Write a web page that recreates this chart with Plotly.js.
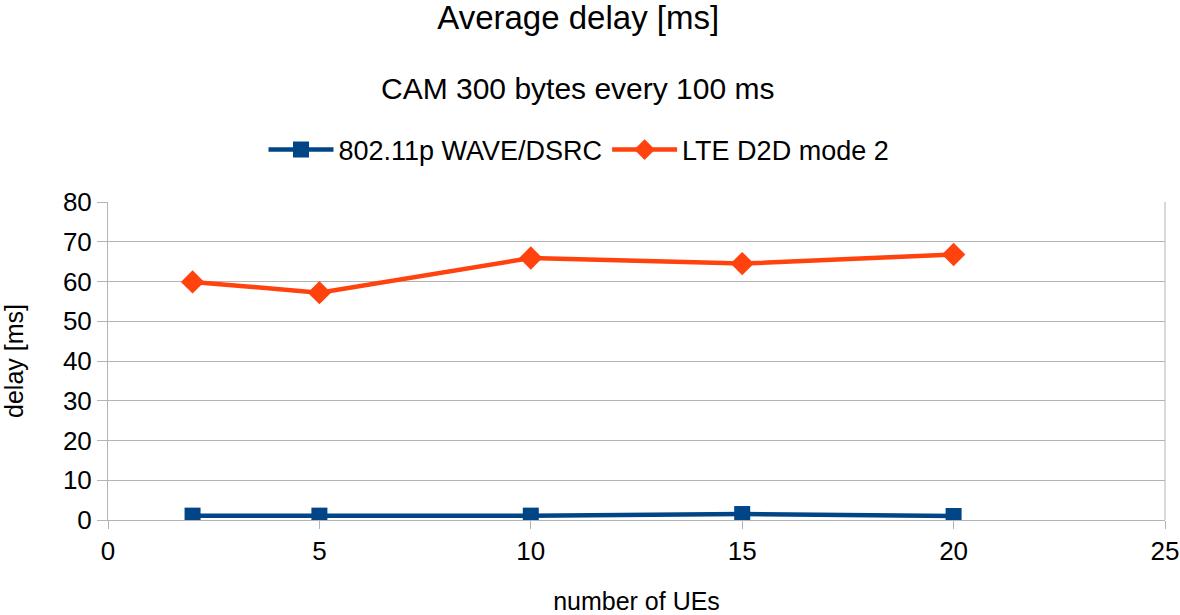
<!DOCTYPE html>
<html>
<head>
<meta charset="utf-8">
<script src="https://cdn.plot.ly/plotly-3.0.1.min.js"></script>
<style>html,body{margin:0;padding:0;background:#fff;}#chart{width:1180px;height:615px;}</style>
</head>
<body>
<div id="chart"></div>
<script>
const ueCounts = [2, 5, 10, 15, 20];
const waveDelay = [1.1, 1.1, 1.1, 1.5, 1.0];
const lteDelay = [59.9, 57.2, 65.9, 64.5, 66.8];
const seriesNames = ['802.11p WAVE/DSRC', 'LTE D2D mode 2'];
const xTicks = [0, 5, 10, 15, 20, 25];
const yTicks = [0, 10, 20, 30, 40, 50, 60, 70, 80];

const font = 'Liberation Sans, Arial, sans-serif';
const traces = [
  {x: ueCounts, y: waveDelay, name: seriesNames[0], type: 'scatter', mode: 'lines+markers',
   line: {color: '#004586', width: 4.5}, marker: {symbol: 'square', size: 16, color: '#004586'}},
  {x: ueCounts, y: lteDelay, name: seriesNames[1], type: 'scatter', mode: 'lines+markers',
   line: {color: '#ff420e', width: 4.5}, marker: {symbol: 'diamond', size: 18, color: '#ff420e'}}
];
const layout = {
  width: 1180, height: 615,
  margin: {l: 108, r: 15, t: 202, b: 95},
  paper_bgcolor: '#fff', plot_bgcolor: '#fff',
  font: {family: font, color: '#000'},
  title: {text: 'Average delay [ms]', font: {size: 33, family: font, color: '#000'},
          x: 0.49, xanchor: 'center', y: 0.972, yanchor: 'middle', xref: 'container', yref: 'container'},
  annotations: [{text: 'CAM 300 bytes every 100 ms', xref: 'paper', yref: 'paper',
                 x: (578-108)/1057, y: (520-88)/318, xanchor: 'center', yanchor: 'middle',
                 showarrow: false, font: {size: 30, family: font, color: '#000'}}],
  showlegend: true,
  legend: {orientation: 'h', x: (579-108)/1057, y: (520-150)/318, xanchor: 'center', yanchor: 'middle',
           font: {size: 27, family: font, color: '#000'}, itemwidth: 65, traceorder: 'normal'},
  xaxis: {range: [0, 25], tickvals: xTicks, ticktext: xTicks.map(String),
          showgrid: false, zeroline: false, showline: true, linecolor: '#b3b3b3', linewidth: 1,
          ticks: 'outside', ticklen: 8, tickcolor: '#b3b3b3',
          tickfont: {size: 26, family: font, color: '#000'},
          title: {text: 'number of UEs', font: {size: 25, family: font, color: '#000'}, standoff: 29}},
  yaxis: {range: [0, 80], tickvals: yTicks, ticktext: yTicks.map(String),
          showgrid: true, gridcolor: '#b3b3b3', gridwidth: 1, zeroline: false,
          showline: true, linecolor: '#b3b3b3', linewidth: 1, mirror: false,
          ticks: 'outside', ticklen: 10, tickcolor: '#b3b3b3',
          tickfont: {size: 26, family: font, color: '#000'},
          title: {text: 'delay [ms]', font: {size: 25, family: font, color: '#000'}, standoff: 33}}
};
layout.shapes = [{type: 'line', xref: 'paper', yref: 'paper', x0: 1, x1: 1, y0: 0, y1: 1, line: {color: '#b3b3b3', width: 1}}];
Plotly.newPlot('chart', traces, layout, {displayModeBar: false, staticPlot: true});
</script>
</body>
</html>
